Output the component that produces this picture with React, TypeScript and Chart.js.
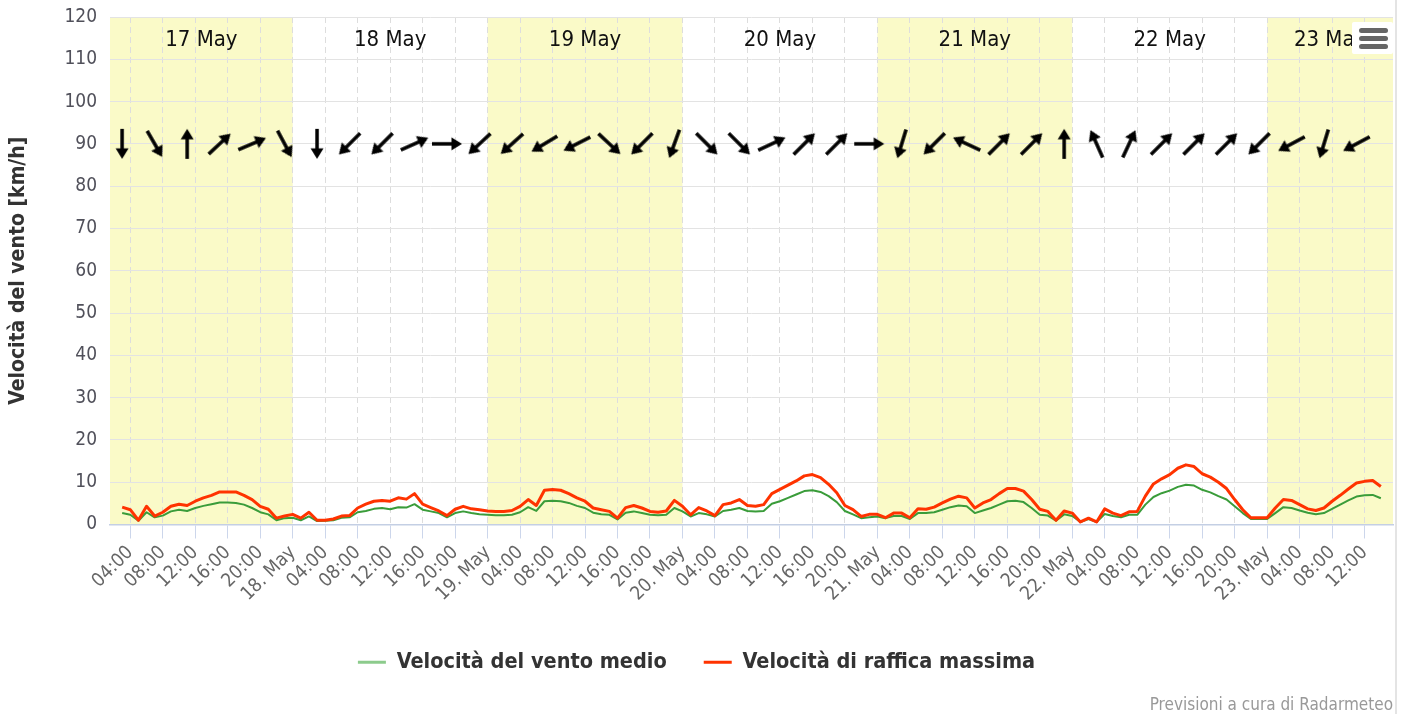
import React, { useEffect, useRef } from "react";
import { Chart, registerables } from "chart.js";

Chart.register(...registerables);

const FONT = '"DejaVu Sans Condensed", "DejaVu Sans", sans-serif';

// Plot bands: one per day, alternate days highlighted
const DAY_LABELS = ["17 May", "18 May", "19 May", "20 May", "21 May", "22 May", "23 May"];
const HIGHLIGHT_DAYS = [0, 2, 4, 6];

// x axis in hours since 17 May 00:00
const X_MIN = 1.5;
const X_MAX = 159.5;
const X_TICK_HOURS = [
  4, 8, 12, 16, 20, 24, 28, 32, 36, 40, 44, 48, 52, 56, 60, 64, 68, 72, 76, 80,
  84, 88, 92, 96, 100, 104, 108, 112, 116, 120, 124, 128, 132, 136, 140, 144, 148, 152, 156,
];
const X_TICK_LABELS = [
  "04:00", "08:00", "12:00", "16:00", "20:00", "18. May",
  "04:00", "08:00", "12:00", "16:00", "20:00", "19. May",
  "04:00", "08:00", "12:00", "16:00", "20:00", "20. May",
  "04:00", "08:00", "12:00", "16:00", "20:00", "21. May",
  "04:00", "08:00", "12:00", "16:00", "20:00", "22. May",
  "04:00", "08:00", "12:00", "16:00", "20:00", "23. May",
  "04:00", "08:00", "12:00",
];
const Y_MIN = 0;
const Y_MAX = 120;
const Y_STEP = 10;

// hourly series, first value at 17 May 03:00
const FIRST_HOUR = 3;
const MEAN_SPEED = [
  // 17 May 03-23
  2.7, 2.3, 0.9, 2.9, 1.7, 2.1, 3.1, 3.5, 3.2, 3.9, 4.4, 4.8, 5.2, 5.2, 5.1, 4.7, 3.9, 2.9, 2.4, 1.0, 1.5,
  // 18 May
  1.6, 1.0, 1.9, 0.8, 0.9, 1.0, 1.6, 1.7, 2.9, 3.2, 3.7, 3.9, 3.6, 4.1, 4.0, 4.8, 3.5, 3.1, 2.7, 1.7, 2.7, 3.1, 2.7, 2.4,
  // 19 May
  2.3, 2.2, 2.2, 2.3, 2.9, 4.1, 3.2, 5.5, 5.6, 5.5, 5.1, 4.4, 3.9, 2.8, 2.4, 2.3, 1.2, 2.8, 3.1, 2.7, 2.3, 2.2, 2.3, 3.9,
  // 20 May
  3.1, 1.9, 2.7, 2.4, 1.9, 3.2, 3.5, 3.9, 3.2, 3.1, 3.2, 4.9, 5.5, 6.3, 7.1, 7.9, 8.1, 7.7, 6.7, 5.3, 3.2, 2.4, 1.5, 1.7,
  // 21 May
  1.9, 1.5, 2.0, 2.0, 1.3, 2.7, 2.7, 2.9, 3.5, 4.1, 4.5, 4.3, 2.7, 3.3, 3.9, 4.7, 5.5, 5.6, 5.3, 3.9, 2.3, 2.1, 0.9, 2.4,
  // 22 May
  2.0, 0.6, 1.3, 0.6, 2.5, 2.0, 1.7, 2.3, 2.3, 4.7, 6.5, 7.4, 8.0, 8.9, 9.4, 9.2, 8.2, 7.6, 6.7, 5.9, 4.3, 2.7, 1.3, 1.3,
  // 23 May 00-14
  1.3, 2.7, 4.1, 3.9, 3.3, 2.8, 2.4, 2.7, 3.7, 4.7, 5.7, 6.6, 6.9, 7.0, 6.2,
];
const GUST_SPEED = [
  // 17 May 03-23
  4.1, 3.5, 1.0, 4.3, 2.0, 2.9, 4.3, 4.8, 4.5, 5.5, 6.3, 6.9, 7.7, 7.7, 7.7, 6.9, 5.9, 4.3, 3.6, 1.5, 2.0,
  // 18 May
  2.4, 1.5, 2.9, 1.0, 1.0, 1.3, 2.0, 2.1, 3.9, 4.8, 5.5, 5.7, 5.5, 6.3, 6.0, 7.3, 4.8, 4.0, 3.2, 2.1, 3.6, 4.3, 3.7, 3.5,
  // 19 May
  3.2, 3.1, 3.1, 3.3, 4.3, 5.9, 4.5, 8.1, 8.3, 8.1, 7.3, 6.3, 5.5, 3.9, 3.5, 3.1, 1.5, 4.0, 4.5, 3.9, 3.1, 2.9, 3.2, 5.7,
  // 20 May
  4.3, 2.3, 4.0, 3.2, 2.1, 4.7, 5.1, 5.9, 4.5, 4.3, 4.7, 7.3, 8.3, 9.3, 10.3, 11.5, 11.8, 11.1, 9.5, 7.5, 4.5, 3.5, 1.9, 2.4,
  // 21 May
  2.4, 1.6, 2.7, 2.7, 1.6, 3.7, 3.6, 4.1, 5.1, 6.0, 6.7, 6.3, 3.9, 5.1, 5.9, 7.3, 8.5, 8.5, 7.9, 5.9, 3.6, 3.1, 1.0, 3.2,
  // 22 May
  2.7, 0.6, 1.5, 0.6, 3.7, 2.7, 2.1, 3.0, 3.1, 6.7, 9.6, 10.8, 11.8, 13.3, 14.1, 13.7, 12.0, 11.2, 10.0, 8.5, 5.9, 3.5, 1.6, 1.6,
  // 23 May 00-14
  1.6, 3.9, 5.9, 5.7, 4.7, 3.7, 3.3, 3.9, 5.5, 6.9, 8.4, 9.8, 10.2, 10.4, 9.0,
];

// wind direction arrows every 4 hours from 17 May 03:00, heading in degrees (0 = up)
const ARROW_LEVEL = 90;
const ARROW_HOURS = [
  3, 7, 11, 15, 19, 23, 27, 31, 35, 39, 43, 47, 51, 55, 59, 63, 67, 71, 75, 79,
  83, 87, 91, 95, 99, 103, 107, 111, 115, 119, 123, 127, 131, 135, 139, 143, 147, 151, 155,
];
const ARROW_HEADINGS = [
  180, 150, 0, 47, 67, 152,
  180, 225, 225, 66, 90, 227,
  228, 239, 243, 133, 225, 200,
  135, 135, 65, 45, 45, 90,
  197, 225, 295, 45, 45, 0,
  336, 25, 45, 45, 45, 225,
  242, 197, 242,
];

const SERIES_NAMES = ["Velocità del vento medio", "Velocità di raffica massima"];
const SERIES_COLORS = ["#3a9c3a", "#ff3300"];
const LEGEND_COLORS = ["#8ccb8c", "#ff3300"];

function makeArrow(): HTMLCanvasElement {
  const c = document.createElement("canvas");
  c.width = 36;
  c.height = 36;
  const g = c.getContext("2d")!;
  g.fillStyle = "#000";
  g.strokeStyle = "#000";
  g.lineWidth = 3.5;
  g.beginPath();
  g.moveTo(18, 33);
  g.lineTo(18, 11);
  g.stroke();
  g.beginPath();
  g.moveTo(18, 3);
  g.lineTo(11.5, 13.5);
  g.lineTo(24.5, 13.5);
  g.closePath();
  g.fill();
  return c;
}

const bandsPlugin = {
  id: "dayBands",
  beforeDraw(chart: any) {
    const { ctx, chartArea } = chart;
    const xs = chart.scales.x;
    ctx.save();
    ctx.fillStyle = "#fafac8";
    HIGHLIGHT_DAYS.forEach((d) => {
      const a = Math.max(xs.getPixelForValue(d * 24), chartArea.left);
      const b = Math.min(xs.getPixelForValue((d + 1) * 24), chartArea.right);
      if (b > a) ctx.fillRect(a, chartArea.top, b - a, chartArea.bottom - chartArea.top);
    });
    ctx.restore();
  },
  beforeDatasetsDraw(chart: any) {
    const { ctx, chartArea } = chart;
    const xs = chart.scales.x;
    ctx.save();
    ctx.fillStyle = "#111";
    ctx.font = `22px ${FONT}`;
    ctx.textAlign = "center";
    ctx.textBaseline = "middle";
    DAY_LABELS.forEach((label, d) => {
      const a = Math.max(xs.getPixelForValue(d * 24), chartArea.left);
      const b = Math.min(xs.getPixelForValue((d + 1) * 24), chartArea.right);
      if (b > a) ctx.fillText(label, (a + b) / 2, chartArea.top + 23);
    });
    ctx.restore();
  },
};

export default function App() {
  const ref = useRef<HTMLCanvasElement | null>(null);

  useEffect(() => {
    if (!ref.current) return;
    const arrow = makeArrow();
    const chart = new Chart(ref.current, {
      type: "line",
      data: {
        datasets: [
          {
            label: SERIES_NAMES[0],
            data: MEAN_SPEED.map((v, i) => ({ x: FIRST_HOUR + i, y: v })),
            borderColor: SERIES_COLORS[0],
            backgroundColor: SERIES_COLORS[0],
            borderWidth: 2,
            pointRadius: 0,
            tension: 0,
            borderJoinStyle: "round",
            order: 2,
          },
          {
            label: SERIES_NAMES[1],
            data: GUST_SPEED.map((v, i) => ({ x: FIRST_HOUR + i, y: v })),
            borderColor: SERIES_COLORS[1],
            backgroundColor: SERIES_COLORS[1],
            borderWidth: 3,
            pointRadius: 0,
            tension: 0,
            borderJoinStyle: "round",
            order: 1,
          },
          {
            type: "scatter",
            label: "dir",
            data: ARROW_HOURS.map((h) => ({ x: h, y: ARROW_LEVEL })),
            pointStyle: arrow as any,
            pointRotation: ARROW_HEADINGS,
            pointRadius: 6,
            order: 0,
          } as any,
        ],
      },
      options: {
        responsive: false,
        animation: false,
        events: [],
        layout: { padding: { left: 0, right: 15, top: 17, bottom: 31 } },
        plugins: {
          tooltip: { enabled: false },
          legend: {
            position: "bottom",
            labels: {
              usePointStyle: true,
              pointStyle: "line",
              pointStyleWidth: 28,
              padding: 37,
              color: "#333",
              font: { family: FONT, size: 21.5, weight: "bold" },
              generateLabels: () =>
                SERIES_NAMES.map((name, i) => ({
                  text: name,
                  strokeStyle: LEGEND_COLORS[i],
                  fillStyle: LEGEND_COLORS[i],
                  lineWidth: 3,
                  pointStyle: "line",
                  hidden: false,
                  datasetIndex: i,
                  fontColor: "#333",
                })) as any,
            },
          },
        },
        scales: {
          x: {
            type: "linear",
            min: X_MIN,
            max: X_MAX,
            afterBuildTicks: (s: any) => {
              s.ticks = X_TICK_HOURS.map((v) => ({ value: v }));
            },
            afterFit: (s: any) => {
              s.height = 90;
              s.paddingTop = 0;
              s.paddingBottom = 0;
            },
            ticks: {
              autoSkip: false,
              minRotation: 45,
              maxRotation: 45,
              padding: 3,
              color: "#666",
              font: { family: FONT, size: 19 },
              callback: (_v: any, i: number) => X_TICK_LABELS[i],
            },
            grid: {
              color: "#dddddd",
              lineWidth: 1,
              drawTicks: true,
              tickLength: 14,
              tickColor: "#ccd6eb",
              tickWidth: 1,
              tickBorderDash: [],
            } as any,
            border: { display: true, color: "#c4cfe4", width: 1.5, dash: [6, 4] },
          },
          y: {
            min: Y_MIN,
            max: Y_MAX,
            afterFit: (s: any) => {
              s.width = 110;
              s.paddingTop = 0;
              s.paddingBottom = 0;
            },
            ticks: {
              stepSize: Y_STEP,
              padding: 13,
              color: "#50505a",
              font: { family: FONT, size: 19 },
            },
            grid: { color: "#e3e3e3", drawTicks: false },
            border: { display: false },
            title: {
              display: true,
              text: "Velocità del vento [km/h]",
              color: "#333",
              font: { family: FONT, size: 21, weight: "bold" },
              padding: { top: 6, bottom: 0 },
            },
          },
        },
      },
      plugins: [bandsPlugin],
    });
    return () => chart.destroy();
  }, []);

  return (
    <div style={{ position: "absolute", left: 0, top: 0, width: 1408, height: 714, background: "#fff", overflow: "hidden" }}>
      <canvas ref={ref} width={1408} height={714} style={{ display: "block" }} />
      <div style={{ position: "absolute", left: 1395, top: 0, width: 2, height: 714, background: "#e4e4e4" }} />
      <div
        style={{
          position: "absolute",
          left: 1352,
          top: 22,
          width: 41,
          height: 32,
          background: "#fff",
          borderRadius: 2,
        }}
      >
        {[6, 14, 22].map((t) => (
          <div
            key={t}
            style={{ position: "absolute", left: 7, top: t, width: 29, height: 5, background: "#666", borderRadius: 2.5 }}
          />
        ))}
      </div>
      <div
        style={{
          position: "absolute",
          right: 15,
          top: 694,
          fontFamily: FONT,
          fontSize: 17,
          lineHeight: "20px",
          color: "#999",
          whiteSpace: "nowrap",
        }}
      >
        Previsioni a cura di Radarmeteo
      </div>
    </div>
  );
}
